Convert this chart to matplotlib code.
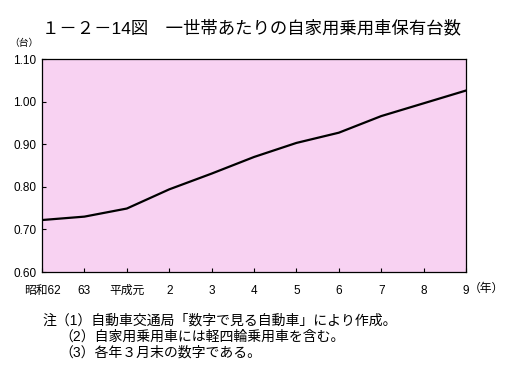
import matplotlib
matplotlib.use("Agg")
from matplotlib import pyplot as plt

plt.rcParams['font.family'] = ['Liberation Sans', 'Noto Sans CJK JP', 'DejaVu Sans']

# 年次と一世帯あたり保有台数
years = ['昭和62', '63', '平成元', '2', '3', '4', '5', '6', '7', '8', '9']
cars = [0.722, 0.730, 0.749, 0.794, 0.831, 0.870, 0.903, 0.927, 0.966, 0.996, 1.026]
yticks = [0.60, 0.70, 0.80, 0.90, 1.00, 1.10]

notes = ['注（1）自動車交通局「数字で見る自動車」により作成。',
         '（2）自家用乗用車には軽四輪乗用車を含む。',
         '（3）各年３月末の数字である。']

fig = plt.figure(figsize=(5.13, 3.78), dpi=100)
ax = fig.add_axes([0.0819, 0.2804, 0.8265, 0.5635])
ax.set_facecolor('#f8d2f2')

xs = range(len(years))
ax.plot(xs, cars, color='black', lw=1.6)

ax.set_xlim(0, len(years) - 1)
ax.set_ylim(0.6, 1.1)
ax.set_yticks(yticks)
ax.set_yticklabels(['%.2f' % v for v in yticks], fontsize=8.5)
ax.set_xticks(list(xs))
ax.set_xticklabels(years, fontsize=8.5)
ax.tick_params(direction='in', length=3, width=0.8)
ax.tick_params(axis='x', pad=9)
ax.tick_params(axis='y', pad=4)
for s in ax.spines.values():
    s.set_linewidth(0.9)

fig.text(0.49, 0.925, '１－２－14図　一世帯あたりの自家用乗用車保有台数',
         ha='center', va='center', fontsize=12.5)
fig.text(0.047, 0.885, '（台）', ha='center', va='center', fontsize=7)
fig.text(0.948, 0.236, '（年）', ha='center', va='center', fontsize=8.5)

fig.text(0.082, 0.153, notes[0], ha='left', va='center', fontsize=10)
fig.text(0.115, 0.109, notes[1], ha='left', va='center', fontsize=10)
fig.text(0.115, 0.066, notes[2], ha='left', va='center', fontsize=10)

fig.savefig('out.png', dpi=100)
